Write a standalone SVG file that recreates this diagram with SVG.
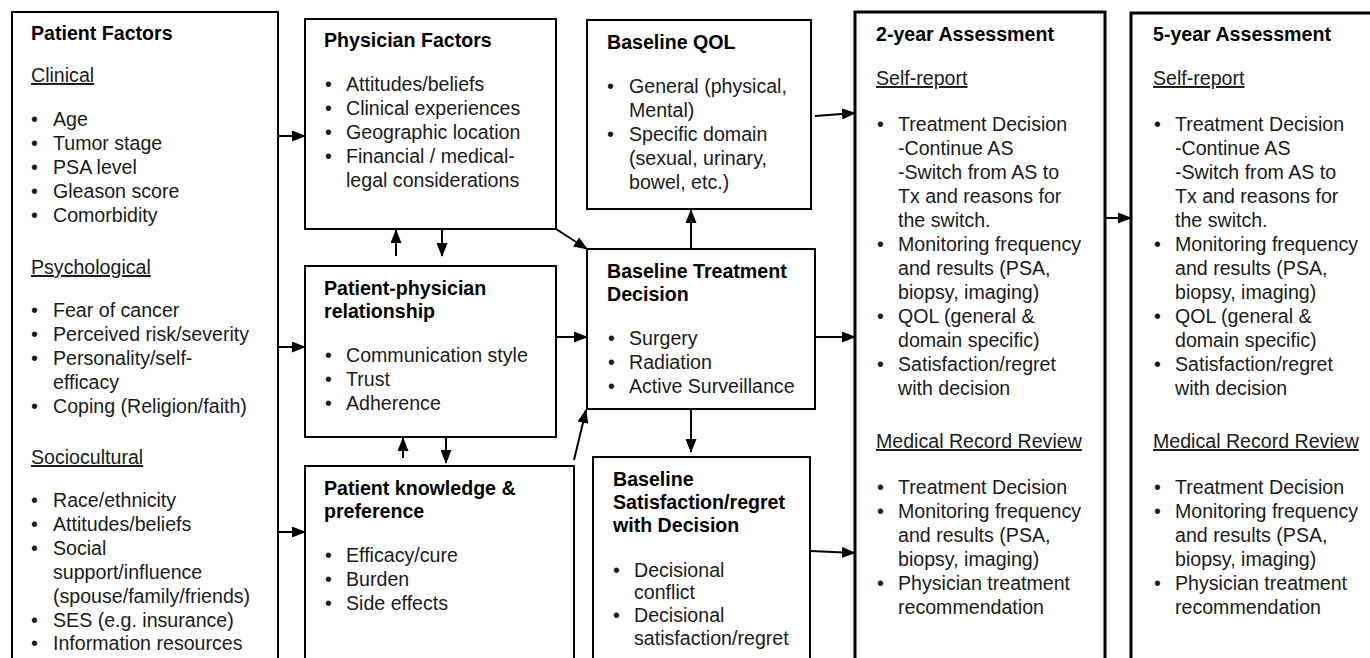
<svg xmlns="http://www.w3.org/2000/svg" width="1370" height="658" viewBox="0 0 1370 658">
<defs>
<marker id="ah" viewBox="0 0 14 11" refX="13" refY="5.5" markerWidth="14" markerHeight="11" markerUnits="userSpaceOnUse" orient="auto">
<path d="M0,0 L14,5.5 L0,11 z" fill="#000"/>
</marker>
<style>
.box{fill:#fff;stroke:#000;stroke-width:2}
.abox{fill:#fff;stroke:#000;stroke-width:3}
text{font-family:"Liberation Sans",Arial,sans-serif;font-size:19.6px;fill:#1a1a1a}
.t{font-weight:bold;fill:#000}
.u{text-decoration:underline}
.c line{stroke:#000;stroke-width:2;marker-end:url(#ah)}
</style>
</defs>
<rect width="1370" height="658" fill="#fff"/>

<g id="patient-factors">
<rect class="box" x="12" y="12" width="266" height="670"/>
<text class="t" x="31" y="40">Patient Factors</text>
<text class="u" x="31" y="82">Clinical</text>
<text x="31" y="126">•</text><text x="53" y="126">Age</text>
<text x="31" y="150">•</text><text x="53" y="150">Tumor stage</text>
<text x="31" y="174">•</text><text x="53" y="174">PSA level</text>
<text x="31" y="198">•</text><text x="53" y="198">Gleason score</text>
<text x="31" y="222">•</text><text x="53" y="222">Comorbidity</text>
<text class="u" x="31" y="274">Psychological</text>
<text x="31" y="317">•</text><text x="53" y="317">Fear of cancer</text>
<text x="31" y="341">•</text><text x="53" y="341">Perceived risk/severity</text>
<text x="31" y="365">•</text><text x="53" y="365">Personality/self-</text>
<text x="53" y="389">efficacy</text>
<text x="31" y="413">•</text><text x="53" y="413">Coping (Religion/faith)</text>
<text class="u" x="31" y="464">Sociocultural</text>
<text x="31" y="507">•</text><text x="53" y="507">Race/ethnicity</text>
<text x="31" y="531">•</text><text x="53" y="531">Attitudes/beliefs</text>
<text x="31" y="555">•</text><text x="53" y="555">Social</text>
<text x="53" y="579">support/influence</text>
<text x="53" y="603">(spouse/family/friends)</text>
<text x="31" y="627">•</text><text x="53" y="627">SES (e.g. insurance)</text>
<text x="31" y="650">•</text><text x="53" y="650">Information resources</text>
</g>

<g id="physician-factors">
<rect class="box" x="305" y="19" width="251" height="210"/>
<text class="t" x="324" y="47">Physician Factors</text>
<text x="325" y="91">•</text><text x="346" y="91">Attitudes/beliefs</text>
<text x="325" y="115">•</text><text x="346" y="115">Clinical experiences</text>
<text x="325" y="139">•</text><text x="346" y="139">Geographic location</text>
<text x="325" y="163">•</text><text x="346" y="163">Financial / medical-</text>
<text x="346" y="187">legal considerations</text>
</g>

<g id="patient-physician">
<rect class="box" x="305" y="266" width="251" height="171"/>
<text class="t" x="324" y="295">Patient-physician</text>
<text class="t" x="324" y="318">relationship</text>
<text x="325" y="362">•</text><text x="346" y="362">Communication style</text>
<text x="325" y="386">•</text><text x="346" y="386">Trust</text>
<text x="325" y="410">•</text><text x="346" y="410">Adherence</text>
</g>

<g id="patient-knowledge">
<rect class="box" x="305" y="466" width="269" height="216"/>
<text class="t" x="324" y="495">Patient knowledge &amp;</text>
<text class="t" x="324" y="518">preference</text>
<text x="325" y="562">•</text><text x="346" y="562">Efficacy/cure</text>
<text x="325" y="586">•</text><text x="346" y="586">Burden</text>
<text x="325" y="610">•</text><text x="346" y="610">Side effects</text>
</g>

<g id="baseline-qol">
<rect class="box" x="587" y="20" width="224" height="189"/>
<text class="t" x="607" y="49">Baseline QOL</text>
<text x="607" y="93">•</text><text x="629" y="93">General (physical,</text>
<text x="629" y="117">Mental)</text>
<text x="607" y="141">•</text><text x="629" y="141">Specific domain</text>
<text x="629" y="165">(sexual, urinary,</text>
<text x="629" y="189">bowel, etc.)</text>
</g>

<g id="baseline-treatment">
<rect class="box" x="587" y="249" width="228" height="160"/>
<text class="t" x="607" y="278">Baseline Treatment</text>
<text class="t" x="607" y="301">Decision</text>
<text x="608" y="345">•</text><text x="629" y="345">Surgery</text>
<text x="608" y="369">•</text><text x="629" y="369">Radiation</text>
<text x="608" y="393">•</text><text x="629" y="393">Active Surveillance</text>
</g>

<g id="baseline-satisfaction">
<rect class="box" x="593" y="457" width="217" height="225"/>
<text class="t" x="613" y="486">Baseline</text>
<text class="t" x="613" y="509">Satisfaction/regret</text>
<text class="t" x="613" y="532">with Decision</text>
<text x="613" y="577">•</text><text x="634" y="577">Decisional</text>
<text x="634" y="599">conflict</text>
<text x="613" y="622">•</text><text x="634" y="622">Decisional</text>
<text x="634" y="645">satisfaction/regret</text>
</g>

<g id="two-year">
<rect class="abox" x="855" y="12" width="250" height="670"/>
<text class="t" x="876" y="41">2-year Assessment</text>
<text class="u" x="876" y="85">Self-report</text>
<text x="877" y="131">•</text><text x="898" y="131">Treatment Decision</text>
<text x="898" y="155">-Continue AS</text>
<text x="898" y="179">-Switch from AS to</text>
<text x="898" y="203">Tx and reasons for</text>
<text x="898" y="227">the switch.</text>
<text x="877" y="251">•</text><text x="898" y="251">Monitoring frequency</text>
<text x="898" y="275">and results (PSA,</text>
<text x="898" y="299">biopsy, imaging)</text>
<text x="877" y="323">•</text><text x="898" y="323">QOL (general &amp;</text>
<text x="898" y="347">domain specific)</text>
<text x="877" y="371">•</text><text x="898" y="371">Satisfaction/regret</text>
<text x="898" y="395">with decision</text>
<text class="u" x="876" y="448">Medical Record Review</text>
<text x="877" y="494">•</text><text x="898" y="494">Treatment Decision</text>
<text x="877" y="518">•</text><text x="898" y="518">Monitoring frequency</text>
<text x="898" y="542">and results (PSA,</text>
<text x="898" y="566">biopsy, imaging)</text>
<text x="877" y="590">•</text><text x="898" y="590">Physician treatment</text>
<text x="898" y="614">recommendation</text>
</g>

<g id="five-year">
<rect class="abox" x="1131" y="13" width="260" height="670"/>
<text class="t" x="1153" y="41">5-year Assessment</text>
<text class="u" x="1153" y="85">Self-report</text>
<text x="1154" y="131">•</text><text x="1175" y="131">Treatment Decision</text>
<text x="1175" y="155">-Continue AS</text>
<text x="1175" y="179">-Switch from AS to</text>
<text x="1175" y="203">Tx and reasons for</text>
<text x="1175" y="227">the switch.</text>
<text x="1154" y="251">•</text><text x="1175" y="251">Monitoring frequency</text>
<text x="1175" y="275">and results (PSA,</text>
<text x="1175" y="299">biopsy, imaging)</text>
<text x="1154" y="323">•</text><text x="1175" y="323">QOL (general &amp;</text>
<text x="1175" y="347">domain specific)</text>
<text x="1154" y="371">•</text><text x="1175" y="371">Satisfaction/regret</text>
<text x="1175" y="395">with decision</text>
<text class="u" x="1153" y="448">Medical Record Review</text>
<text x="1154" y="494">•</text><text x="1175" y="494">Treatment Decision</text>
<text x="1154" y="518">•</text><text x="1175" y="518">Monitoring frequency</text>
<text x="1175" y="542">and results (PSA,</text>
<text x="1175" y="566">biopsy, imaging)</text>
<text x="1154" y="590">•</text><text x="1175" y="590">Physician treatment</text>
<text x="1175" y="614">recommendation</text>
</g>

<g id="connectors" class="c">
<line x1="278" y1="136" x2="305" y2="136"/>
<line x1="278" y1="347" x2="305" y2="347"/>
<line x1="278" y1="532" x2="305" y2="532"/>
<line x1="396" y1="256" x2="396" y2="230"/>
<line x1="442" y1="230" x2="442" y2="256"/>
<line x1="403" y1="458" x2="403" y2="438"/>
<line x1="446" y1="438" x2="446" y2="463"/>
<line x1="556" y1="229" x2="587" y2="249"/>
<line x1="556" y1="337" x2="587" y2="337"/>
<line x1="574" y1="460" x2="586" y2="410"/>
<line x1="691" y1="249" x2="691" y2="210"/>
<line x1="691" y1="409" x2="691" y2="452"/>
<line x1="815" y1="116" x2="855" y2="113"/>
<line x1="815" y1="337" x2="855" y2="337"/>
<line x1="811" y1="551" x2="855" y2="553"/>
<line x1="1105" y1="218" x2="1131" y2="218"/>
</g>
</svg>
